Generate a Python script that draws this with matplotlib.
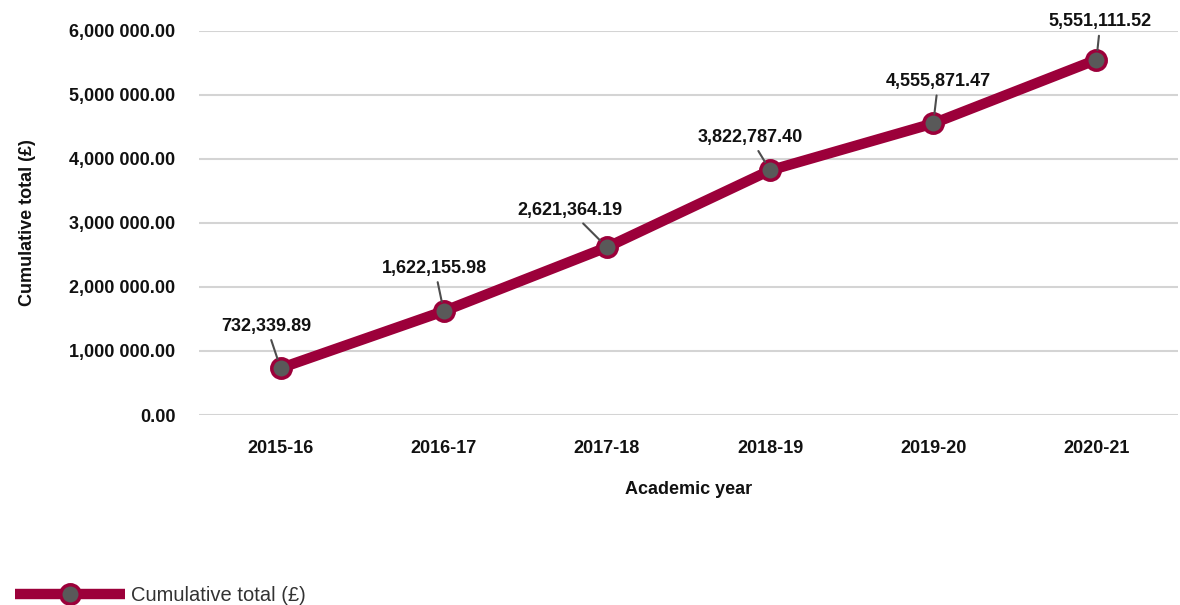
import matplotlib
matplotlib.use("Agg")
import matplotlib.pyplot as plt
from matplotlib.ticker import FuncFormatter

plt.rcParams['font.family'] = ['Liberation Sans', 'DejaVu Sans']

years = ["2015-16", "2016-17", "2017-18", "2018-19", "2019-20", "2020-21"]
cumulative = [732339.89, 1622155.98, 2621364.19, 3822787.40, 4555871.47, 5551111.52]
y_ticks = [0, 1000000, 2000000, 3000000, 4000000, 5000000, 6000000]

# label offsets (pixels) from each point to its callout text
label_offsets = [(-14, -42), (-9, -43), (-37, -37), (-20, -33), (5, -42), (4, -38)]

LINE = '#9C003A'
MARK = '#595959'
TXT = '#111111'

fig = plt.figure(figsize=(11.8, 6.05), dpi=100)
ax = fig.add_axes([199 / 1180, 1 - 415 / 605, (1178 - 199) / 1180, (415 - 31) / 605])

x = list(range(len(years)))
line, = ax.plot(x, cumulative, color=LINE, lw=7.5, marker='o', markersize=14,
                markerfacecolor=MARK, markeredgecolor=LINE, markeredgewidth=2.5,
                solid_capstyle='butt', zorder=3, label='Cumulative total (£)')

for xi, v, (dx, dy) in zip(x, cumulative, label_offsets):
    ax.annotate(f"{v:,.2f}", xy=(xi, v), xytext=(dx, -dy), textcoords='offset pixels',
                ha='center', va='center', fontsize=13, fontweight='bold', color=TXT,
                arrowprops=dict(arrowstyle='-', color='#4d4d4d', lw=1.5,
                                shrinkA=2, shrinkB=7), zorder=4)


def fmt(v, _pos):
    s = f"{v:,.2f}"
    if s.count(',') >= 2:
        i = s.rfind(',')
        s = s[:i] + ' ' + s[i + 1:]
    return s


ax.set_xlim(-0.5, len(years) - 0.5)
ax.set_ylim(0, 6000000)
ax.set_yticks(y_ticks)
ax.yaxis.set_major_formatter(FuncFormatter(fmt))
ax.set_xticks(x)
ax.set_xticklabels(years)
ax.tick_params(axis='both', length=0, labelsize=13, labelcolor=TXT)
ax.tick_params(axis='y', pad=17)
ax.tick_params(axis='x', pad=18)
for lab in ax.get_xticklabels() + ax.get_yticklabels():
    lab.set_fontweight('bold')

ax.grid(axis='y', color='#d4d4d4', lw=1.5)
ax.set_axisbelow(True)
for s in ax.spines.values():
    s.set_visible(False)

ax.set_xlabel('Academic year', fontsize=13, fontweight='bold', color=TXT, labelpad=17)
ax.set_ylabel('Cumulative total (£)', fontsize=13, fontweight='bold', color=TXT)
ax.yaxis.set_label_coords(-(199 - 36) / (1178 - 199), 0.5)

fig.legend(handles=[line], loc='lower left', bbox_to_anchor=(-0.003, -0.03),
           frameon=False, fontsize=14.5, handlelength=5.5, handletextpad=0.3,
           labelcolor='#333333')

fig.savefig('out.png', dpi=100)
